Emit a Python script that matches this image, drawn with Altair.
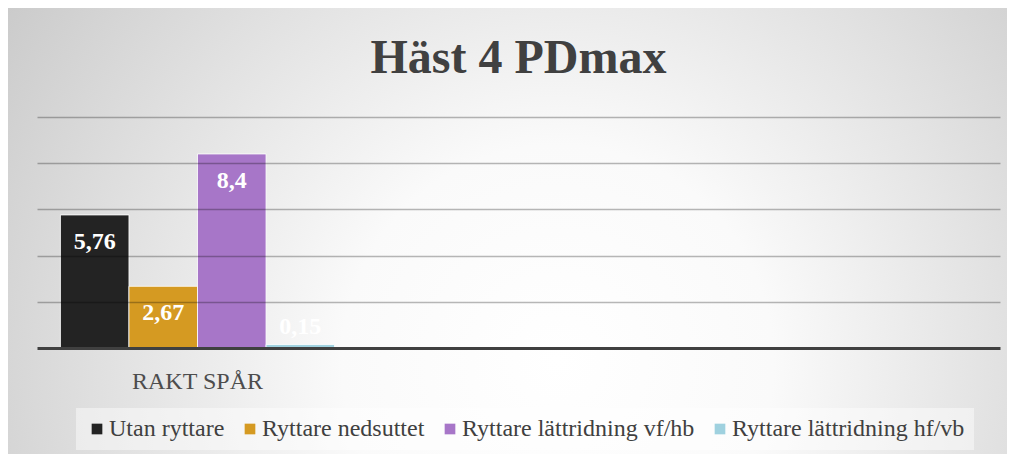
import altair as alt
import pandas as pd

categories = ["RAKT SPÅR", "kat2", "kat3"]
series = ["Utan ryttare", "Ryttare nedsuttet", "Ryttare lättridning vf/hb", "Ryttare lättridning hf/vb"]
values = [5.76, 2.67, 8.4, 0.15]
colors = ["#232323", "#d59a22", "#a776c8", "#9fd1df"]
grid_values = [2, 4, 6, 8, 10]

labels = [("%g" % v).replace(".", ",") for v in values]
df = pd.DataFrame({
    "kategori": [categories[0]] * len(series),
    "serie": series,
    "varde": values,
    "etikett": labels,
    "noll": [0] * len(series),
})

W, H = 963, 231
PL, PT, PR, PB = 29, 109, 7, 106

bg = alt.Chart(pd.DataFrame({"a": [0]})).mark_rect(
    fill=alt.RadialGradient(
        gradient="radial",
        x1=0.55, y1=0.63, r1=0.0,
        x2=0.55, y2=0.63, r2=0.72,
        stops=[
            alt.GradientStop(color="#ffffff", offset=0.0),
            alt.GradientStop(color="#fafafa", offset=0.3),
            alt.GradientStop(color="#c4c4c4", offset=1.0),
        ],
    ),
    strokeWidth=0,
).encode(
    x=alt.value(-PL), x2=alt.value(W + PR),
    y=alt.value(-PT), y2=alt.value(H + PB),
)

x_enc = alt.X(
    "kategori:N",
    scale=alt.Scale(domain=categories, paddingInner=0.146, paddingOuter=0.073),
    axis=alt.Axis(
        title=None,
        labelExpr="datum.value == 'RAKT SPÅR' ? datum.value : ''",
        ticks=False,
        domainColor="#404040",
        domainWidth=3,
        labelFont="Liberation Serif",
        labelFontSize=24,
        labelColor="#4d4d4d",
        labelPadding=21,
        labelAngle=0,
        zindex=1,
    ),
)
xoff = alt.XOffset("serie:N", sort=series, scale=alt.Scale(paddingInner=0, paddingOuter=0))
y_enc = alt.Y(
    "varde:Q",
    scale=alt.Scale(domain=[0, 10]),
    axis=alt.Axis(
        title=None, labels=False, ticks=False, domain=False,
        values=grid_values, gridColor="#000000", gridOpacity=0.28, gridWidth=1.5,
        zindex=1,
    ),
)

bars = alt.Chart(df).mark_bar(stroke="white", strokeWidth=1, strokeOpacity=0.8).encode(
    x=x_enc,
    xOffset=xoff,
    y=y_enc,
    color=alt.Color(
        "serie:N",
        sort=series,
        scale=alt.Scale(domain=series, range=colors),
        legend=alt.Legend(
            orient="none", legendX=39, legendY=291,
            direction="horizontal", columns=4, title=None,
            symbolType="square", symbolSize=114, symbolStrokeWidth=0,
            labelFont="Liberation Serif", labelFontSize=24, labelColor="#404040",
            labelLimit=400, columnPadding=13, labelOffset=0,
            fillColor="rgba(255,255,255,0.45)", padding=9,
        ),
    ),
)

text_style = dict(
    baseline="middle", align="center",
    font="Liberation Serif", fontSize=24, fontWeight="bold", color="white",
)

text_big = alt.Chart(df).transform_filter("datum.varde >= 1").mark_text(
    dy=27, **text_style
).encode(
    x=alt.X("kategori:N", scale=alt.Scale(domain=categories)),
    xOffset=alt.XOffset("serie:N", sort=series),
    y=alt.Y("varde:Q"),
    text="etikett:N",
)

text_small = alt.Chart(df).transform_filter("datum.varde < 1").mark_text(
    dy=-21, **text_style
).encode(
    x=alt.X("kategori:N", scale=alt.Scale(domain=categories)),
    xOffset=alt.XOffset("serie:N", sort=series),
    y=alt.Y("noll:Q"),
    text="etikett:N",
)

chart = alt.layer(bg, bars, text_big, text_small).properties(
    width=W, height=H,
    autosize=alt.AutoSizeParams(type="none"),
    padding={"left": PL, "top": PT, "right": PR, "bottom": PB},
    title=alt.TitleParams(
        text="Häst 4 PDmax", font="Liberation Serif", fontSize=48,
        fontWeight="bold", color="#404040", anchor="middle", offset=-75,
    ),
).configure_view(stroke=None)

chart.save("out.html", embed_options={"renderer": "svg", "actions": False})
